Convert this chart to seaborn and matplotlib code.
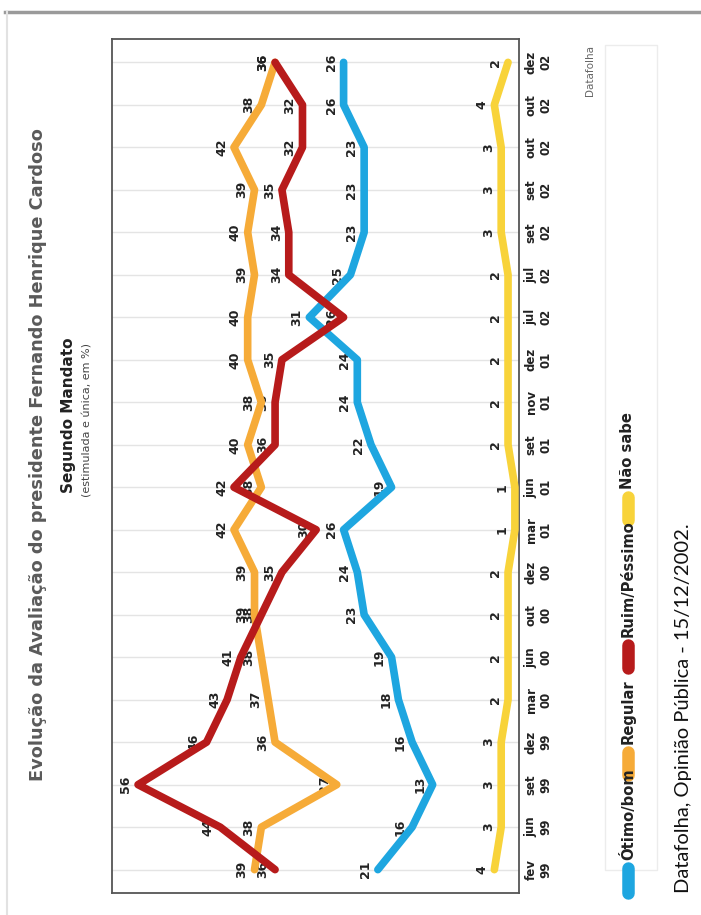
import pandas as pd
import seaborn as sns
import matplotlib.pyplot as plt
from matplotlib.lines import Line2D
from matplotlib.patches import Rectangle

# pesquisas Datafolha, segundo mandato FHC (grafico girado 90 graus)
datas = ['fev\n99', 'jun\n99', 'set\n99', 'dez\n99', 'mar\n00', 'jun\n00', 'out\n00',
         'dez\n00', 'mar\n01', 'jun\n01', 'set\n01', 'nov\n01', 'dez\n01', 'jul\n02',
         'jul\n02', 'set\n02', 'set\n02', 'out\n02', 'out\n02', 'dez\n02']
otimo_bom = [21, 16, 13, 16, 18, 19, 23, 24, 26, 19, 22, 24, 24, 31, 25, 23, 23, 23, 26, 26]
regular = [39, 38, 27, 36, 37, 38, 39, 39, 42, 38, 40, 38, 40, 40, 39, 40, 39, 42, 38, 36]
ruim_pessimo = [36, 44, 56, 46, 43, 41, 38, 35, 30, 42, 36, 36, 35, 26, 34, 34, 35, 32, 32, 36]
nao_sabe = [4, 3, 3, 3, 2, 2, 2, 2, 1, 1, 2, 2, 2, 2, 2, 3, 3, 3, 4, 2]

series = ['Ótimo/bom', 'Regular', 'Ruim/Péssimo', 'Não sabe']
cores = ['#1ea6e0', '#f6ab38', '#b71b1b', '#f8d33a']

df = pd.concat([
    pd.DataFrame({'serie': s, 'pos': range(len(datas)), 'valor': v})
    for s, v in zip(series, [otimo_bom, regular, ruim_pessimo, nao_sabe])
])

W, H = 701, 915
fig = plt.figure(figsize=(W / 100, H / 100), dpi=100)
fig.patch.set_facecolor('white')


def fx(px):
    return px / W


def fy(py):
    return 1 - py / H


ax = fig.add_axes([fx(112), fy(893), fx(519 - 112), (893 - 39) / H])
sns.lineplot(data=df, x='valor', y='pos', hue='serie', palette=cores, orient='y',
             sort=False, linewidth=5.5, legend=False, ax=ax,
             solid_capstyle='round', solid_joinstyle='round', zorder=3)

for s, c in zip(series, cores):
    sub = df[df['serie'] == s]
    for v, p in zip(sub['valor'], sub['pos']):
        ax.annotate(str(v), (v, p), xytext=(-9, 0), textcoords='offset points',
                    rotation=90, ha='center', va='center', fontsize=9,
                    fontweight='bold', color='#222222', zorder=2)

ax.set_xlim(59.8, 0.4)
ax.set_ylim(-0.55, len(datas) - 0.45)
ax.set_xticks([])
ax.set_yticks(range(len(datas)))
ax.set_yticklabels(datas, rotation=90, fontsize=8.5, fontweight='bold',
                   color='#222222', va='center', ha='left', multialignment='center')
ax.yaxis.tick_right()
ax.tick_params(axis='y', length=0, pad=4)
ax.set_xlabel('')
ax.set_ylabel('')
ax.grid(axis='y', color='#e4e4e4', linewidth=1)
ax.set_axisbelow(True)
for sp in ax.spines.values():
    sp.set_color('#555555')
    sp.set_linewidth(1.3)

# titulos (texto girado)
fig.text(fx(38), fy(455), 'Evolução da Avaliação do presidente Fernando Henrique Cardoso',
         rotation=90, ha='center', va='center', fontsize=12.8, fontweight='bold', color='#5a5a5a')
fig.text(fx(69), fy(415), 'Segundo Mandato', rotation=90, ha='center', va='center',
         fontsize=11, fontweight='bold', color='#222222', family='Liberation Sans Narrow')
fig.text(fx(88), fy(420), '(estimulada e única, em %)', rotation=90, ha='center',
         va='center', fontsize=8, color='#444444')
fig.text(fx(590), fy(70), 'Datafolha', rotation=90, ha='center', va='center',
         fontsize=7.5, color='#666666')

# legenda manual
fig.add_artist(Rectangle((fx(605), fy(870)), fx(52), (870 - 45) / H, transform=fig.transFigure,
                         fill=False, edgecolor='#ececec', linewidth=1))
leg_x = 628
leg_itens = [(893, 868, 'Ótimo/bom'), (775, 752, 'Regular'),
             (668, 645, 'Ruim/Péssimo'), (520, 497, 'Não sabe')]
for (y0, y1, nome), c in zip(leg_itens, cores):
    fig.add_artist(Line2D([fx(leg_x), fx(leg_x)], [fy(y0), fy(y1)], transform=fig.transFigure,
                          color=c, linewidth=9, solid_capstyle='round'))
    fig.text(fx(leg_x), fy(y1 - 8), nome, rotation=90, ha='center', va='bottom',
             fontsize=10.6, fontweight='bold', color='#222222')

fig.text(fx(683), fy(893), 'Datafolha, Opinião Pública - 15/12/2002.', rotation=90,
         ha='center', va='bottom', fontsize=14.5, color='#111111', family='Lato')

# moldura da imagem
fig.add_artist(Line2D([fx(5), 1], [fy(12), fy(12)], transform=fig.transFigure,
                      color='#9a9a9a', linewidth=2.5))
fig.add_artist(Line2D([fx(7), fx(7)], [fy(12), 0], transform=fig.transFigure,
                      color='#e2e2e2', linewidth=1.5))

fig.savefig('out.png', dpi=100)
